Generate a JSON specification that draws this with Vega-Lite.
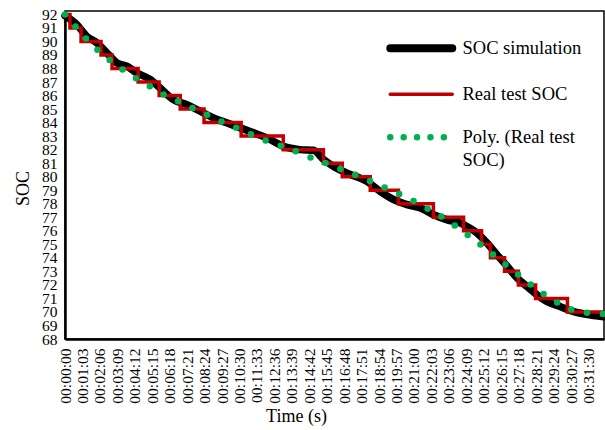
{
  "$schema": "https://vega.github.io/schema/vega-lite/v6.json",
  "width": 539,
  "height": 328,
  "autosize": {"type": "none"},
  "padding": {"left": 65, "top": 11, "right": 1, "bottom": 91},
  "background": "white",
  "config": {
    "view": {"stroke": "black", "strokeWidth": 1.5},
    "font": "Liberation Serif",
    "axis": {"grid": false, "labelFont": "Liberation Serif", "titleFont": "Liberation Serif", "labelColor": "black", "titleColor": "black", "domainColor": "black"}
  },
  "data": {
    "values": [
      {"series": "SOC simulation", "t": 0, "soc": 91.9},
      {"series": "SOC simulation", "t": 42, "soc": 91.26},
      {"series": "SOC simulation", "t": 78, "soc": 90.39},
      {"series": "SOC simulation", "t": 115, "soc": 89.9},
      {"series": "SOC simulation", "t": 151, "soc": 89.16},
      {"series": "SOC simulation", "t": 187, "soc": 88.42},
      {"series": "SOC simulation", "t": 223, "soc": 88.17},
      {"series": "SOC simulation", "t": 259, "soc": 87.68},
      {"series": "SOC simulation", "t": 307, "soc": 87.19},
      {"series": "SOC simulation", "t": 343, "soc": 86.57},
      {"series": "SOC simulation", "t": 391, "soc": 85.7},
      {"series": "SOC simulation", "t": 440, "soc": 85.33},
      {"series": "SOC simulation", "t": 488, "soc": 84.84},
      {"series": "SOC simulation", "t": 536, "soc": 84.35},
      {"series": "SOC simulation", "t": 584, "soc": 83.98},
      {"series": "SOC simulation", "t": 633, "soc": 83.61},
      {"series": "SOC simulation", "t": 681, "soc": 83.24},
      {"series": "SOC simulation", "t": 729, "soc": 82.87},
      {"series": "SOC simulation", "t": 789, "soc": 82.24},
      {"series": "SOC simulation", "t": 849, "soc": 82.0},
      {"series": "SOC simulation", "t": 897, "soc": 81.95},
      {"series": "SOC simulation", "t": 934, "soc": 81.26},
      {"series": "SOC simulation", "t": 970, "soc": 80.76},
      {"series": "SOC simulation", "t": 1018, "soc": 80.27},
      {"series": "SOC simulation", "t": 1090, "soc": 79.65},
      {"series": "SOC simulation", "t": 1139, "soc": 78.89},
      {"series": "SOC simulation", "t": 1187, "soc": 78.3},
      {"series": "SOC simulation", "t": 1235, "soc": 77.93},
      {"series": "SOC simulation", "t": 1283, "soc": 77.68},
      {"series": "SOC simulation", "t": 1331, "soc": 77.19},
      {"series": "SOC simulation", "t": 1380, "soc": 76.81},
      {"series": "SOC simulation", "t": 1428, "soc": 76.57},
      {"series": "SOC simulation", "t": 1440, "soc": 76.44},
      {"series": "SOC simulation", "t": 1488, "soc": 75.83},
      {"series": "SOC simulation", "t": 1524, "soc": 75.09},
      {"series": "SOC simulation", "t": 1560, "soc": 74.22},
      {"series": "SOC simulation", "t": 1597, "soc": 73.36},
      {"series": "SOC simulation", "t": 1633, "soc": 72.5},
      {"series": "SOC simulation", "t": 1669, "soc": 71.87},
      {"series": "SOC simulation", "t": 1705, "soc": 71.26},
      {"series": "SOC simulation", "t": 1741, "soc": 70.76},
      {"series": "SOC simulation", "t": 1789, "soc": 70.39},
      {"series": "SOC simulation", "t": 1837, "soc": 70.02},
      {"series": "SOC simulation", "t": 1898, "soc": 69.78},
      {"series": "SOC simulation", "t": 1946, "soc": 69.65},
      {"series": "Real test SOC", "t": 0, "soc": 92},
      {"series": "Real test SOC", "t": 18, "soc": 91},
      {"series": "Real test SOC", "t": 58, "soc": 90},
      {"series": "Real test SOC", "t": 130, "soc": 89},
      {"series": "Real test SOC", "t": 170, "soc": 88},
      {"series": "Real test SOC", "t": 264, "soc": 87},
      {"series": "Real test SOC", "t": 340, "soc": 86},
      {"series": "Real test SOC", "t": 416, "soc": 85},
      {"series": "Real test SOC", "t": 502, "soc": 84},
      {"series": "Real test SOC", "t": 636, "soc": 83},
      {"series": "Real test SOC", "t": 788, "soc": 82},
      {"series": "Real test SOC", "t": 933, "soc": 81},
      {"series": "Real test SOC", "t": 1001, "soc": 80},
      {"series": "Real test SOC", "t": 1102, "soc": 79},
      {"series": "Real test SOC", "t": 1204, "soc": 78},
      {"series": "Real test SOC", "t": 1330, "soc": 77},
      {"series": "Real test SOC", "t": 1439, "soc": 76},
      {"series": "Real test SOC", "t": 1504, "soc": 75},
      {"series": "Real test SOC", "t": 1536, "soc": 74},
      {"series": "Real test SOC", "t": 1587, "soc": 73},
      {"series": "Real test SOC", "t": 1637, "soc": 72},
      {"series": "Real test SOC", "t": 1699, "soc": 71},
      {"series": "Real test SOC", "t": 1814, "soc": 70},
      {"series": "Real test SOC", "t": 1946, "soc": 70},
      {"series": "Poly. (Real test SOC)", "t": 0, "soc": 92.0},
      {"series": "Poly. (Real test SOC)", "t": 37, "soc": 91.13},
      {"series": "Poly. (Real test SOC)", "t": 76, "soc": 90.2},
      {"series": "Poly. (Real test SOC)", "t": 118, "soc": 89.36},
      {"series": "Poly. (Real test SOC)", "t": 163, "soc": 88.59},
      {"series": "Poly. (Real test SOC)", "t": 211, "soc": 87.87},
      {"series": "Poly. (Real test SOC)", "t": 259, "soc": 87.24},
      {"series": "Poly. (Real test SOC)", "t": 310, "soc": 86.64},
      {"series": "Poly. (Real test SOC)", "t": 361, "soc": 86.02},
      {"series": "Poly. (Real test SOC)", "t": 416, "soc": 85.5},
      {"series": "Poly. (Real test SOC)", "t": 467, "soc": 85.01},
      {"series": "Poly. (Real test SOC)", "t": 520, "soc": 84.52},
      {"series": "Poly. (Real test SOC)", "t": 575, "soc": 83.98},
      {"series": "Poly. (Real test SOC)", "t": 628, "soc": 83.53},
      {"series": "Poly. (Real test SOC)", "t": 683, "soc": 83.04},
      {"series": "Poly. (Real test SOC)", "t": 736, "soc": 82.59},
      {"series": "Poly. (Real test SOC)", "t": 792, "soc": 82.2},
      {"series": "Poly. (Real test SOC)", "t": 847, "soc": 81.76},
      {"series": "Poly. (Real test SOC)", "t": 900, "soc": 81.31},
      {"series": "Poly. (Real test SOC)", "t": 955, "soc": 80.89},
      {"series": "Poly. (Real test SOC)", "t": 1010, "soc": 80.44},
      {"series": "Poly. (Real test SOC)", "t": 1064, "soc": 80.02},
      {"series": "Poly. (Real test SOC)", "t": 1118, "soc": 79.53},
      {"series": "Poly. (Real test SOC)", "t": 1172, "soc": 79.04},
      {"series": "Poly. (Real test SOC)", "t": 1226, "soc": 78.54},
      {"series": "Poly. (Real test SOC)", "t": 1277, "soc": 78.0},
      {"series": "Poly. (Real test SOC)", "t": 1329, "soc": 77.41},
      {"series": "Poly. (Real test SOC)", "t": 1380, "soc": 76.79},
      {"series": "Poly. (Real test SOC)", "t": 1428, "soc": 76.07},
      {"series": "Poly. (Real test SOC)", "t": 1474, "soc": 75.39},
      {"series": "Poly. (Real test SOC)", "t": 1521, "soc": 74.64},
      {"series": "Poly. (Real test SOC)", "t": 1569, "soc": 73.85},
      {"series": "Poly. (Real test SOC)", "t": 1615, "soc": 73.11},
      {"series": "Poly. (Real test SOC)", "t": 1660, "soc": 72.37},
      {"series": "Poly. (Real test SOC)", "t": 1707, "soc": 71.63},
      {"series": "Poly. (Real test SOC)", "t": 1756, "soc": 70.96},
      {"series": "Poly. (Real test SOC)", "t": 1805, "soc": 70.39},
      {"series": "Poly. (Real test SOC)", "t": 1861, "soc": 69.98},
      {"series": "Poly. (Real test SOC)", "t": 1918, "soc": 69.9},
      {"series": "Poly. (Real test SOC)", "t": 1946, "soc": 69.85}
    ]
  },
  "encoding": {
    "x": {
      "field": "t", "type": "quantitative",
      "scale": {"domain": [0, 1946], "nice": false, "zero": false},
      "axis": {
        "title": "Time (s)",
        "values": [0, 63, 126, 189, 252, 315, 378, 441, 504, 567, 630, 693, 756, 819, 882, 945, 1008, 1071, 1134, 1197, 1260, 1323, 1386, 1449, 1512, 1575, 1638, 1701, 1764, 1827, 1890],
        "labelExpr": "utcFormat(datum.value * 1000, '%H:%M:%S')",
        "labelAngle": 270, "labelAlign": "right", "labelBaseline": "middle",
        "labelPadding": 9, "labelFontSize": 15.5,
        "labelOverlap": false, "labelBound": false, "labelFlush": false,
        "ticks": false, "tickSize": 0,
        "domainWidth": 2.3,
        "titleFontSize": 18, "titleFontWeight": "normal",
        "titleX": 231, "titleY": 82, "titleAlign": "center", "titleBaseline": "alphabetic"
      }
    },
    "y": {
      "field": "soc", "type": "quantitative",
      "scale": {"domain": [68, 92.25], "nice": false, "zero": false},
      "axis": {
        "title": "SOC",
        "values": [68, 69, 70, 71, 72, 73, 74, 75, 76, 77, 78, 79, 80, 81, 82, 83, 84, 85, 86, 87, 88, 89, 90, 91, 92],
        "labelFontSize": 15.5, "labelPadding": 8,
        "labelOverlap": false, "labelBound": false, "labelFlush": false,
        "ticks": false, "tickSize": 0,
        "domainWidth": 2.5,
        "titleFontSize": 18, "titleFontWeight": "normal",
        "titleAngle": 270, "titleX": -37, "titleY": 177, "titleAlign": "center", "titleBaseline": "alphabetic"
      }
    },
    "color": {
      "field": "series", "type": "nominal",
      "scale": {"domain": ["SOC simulation", "Real test SOC", "Poly. (Real test SOC)"], "range": ["#000000", "#c00000", "#00b050"]},
      "legend": {
        "title": null, "orient": "none", "legendX": 347, "legendY": 28,
        "padding": 0,
        "symbolType": "stroke", "symbolSize": 3844,
        "labelFontSize": 18.5, "labelFont": "Liberation Serif", "labelColor": "black",
        "labelOffset": 32, "rowPadding": 20, "labelLimit": 400,
        "labelExpr": "datum.label == 'Poly. (Real test SOC)' ? ['Poly. (Real test', 'SOC)'] : datum.label",
        "encode": {
          "symbols": {"update": {
            "strokeCap": {"value": "round"},
            "strokeWidth": {"signal": "datum.value == 'SOC simulation' ? 8 : datum.value == 'Real test SOC' ? 3.5 : 6.5"},
            "strokeDash": {"signal": "datum.value == 'Poly. (Real test SOC)' ? [0, 13.4, 0, 13.4, 0, 13.4, 0, 13.4, 0, 200] : [1, 0]"}
          }},
          "labels": {"update": {"lineHeight": {"value": 23}}}
        }
      }
    }
  },
  "layer": [
    {
      "transform": [{"filter": "datum.series == 'SOC simulation'"}],
      "mark": {"type": "line", "strokeWidth": 7.5, "strokeCap": "round", "strokeJoin": "round", "interpolate": "monotone"}
    },
    {
      "transform": [{"filter": "datum.series == 'Real test SOC'"}],
      "mark": {"type": "line", "strokeWidth": 3.5, "strokeJoin": "miter", "interpolate": "step-after"}
    },
    {
      "transform": [{"filter": "datum.series == 'Poly. (Real test SOC)'"}],
      "mark": {"type": "line", "strokeWidth": 6.5, "strokeCap": "round", "strokeDash": [0, 16], "interpolate": "monotone"}
    }
  ]
}
